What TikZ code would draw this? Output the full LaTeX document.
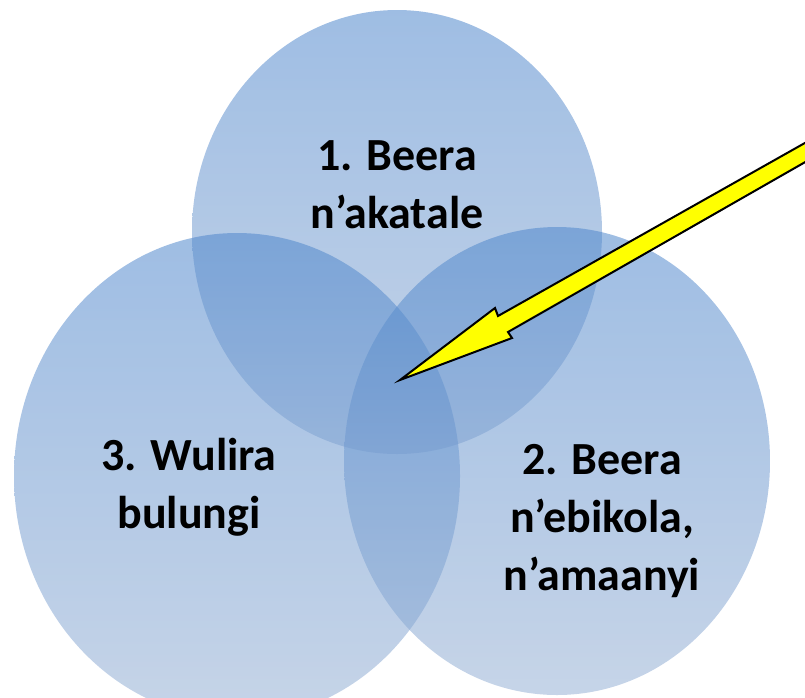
\documentclass[tikz,border=0pt]{standalone}
\usepackage{fontspec}
\setmainfont{Carlito}
\usetikzlibrary{shapes.geometric}
\definecolor{venntop}{RGB}{79,135,204}
\definecolor{vennbot}{RGB}{151,177,213}
\definecolor{arrowyellow}{RGB}{255,255,0}
\tikzset{
  venn/.style={ellipse, inner sep=0pt, draw=none, top color=venntop, bottom color=vennbot, fill opacity=0.55},
  lbl/.style={align=center, text=black, font=\fontsize{46}{58}\selectfont\bfseries, inner sep=0pt},
  bigarrow/.style={fill=arrowyellow, draw=black, line width=2pt, line join=miter}
}
\begin{document}
\begin{tikzpicture}[x=1pt,y=-1pt]
\useasboundingbox (0,0) rectangle (805,697);
\clip (0,0) rectangle (805,697);
\node[venn, minimum width=410pt, minimum height=444pt] (c1) at (397,232) {};
\node[venn, minimum width=426pt, minimum height=468pt] (c2) at (557,461) {};
\node[venn, minimum width=446pt, minimum height=486pt] (c3) at (237,476) {};
\node[lbl] (t1) at (397,185) {1. Beera\\n’akatale};
\node[lbl] (t2) at (602,521) {2. Beera\\n’ebikola,\\n’amaanyi};
\node[lbl] (t3) at (189,487) {3. Wulira\\bulungi};
\coordinate (tip) at (400,380);
\draw[bigarrow] (tip) -- (495,308) -- (498,316) -- (835,126) -- (835,145) -- (508,332) -- (512,338) -- cycle;
\end{tikzpicture}
\end{document}
